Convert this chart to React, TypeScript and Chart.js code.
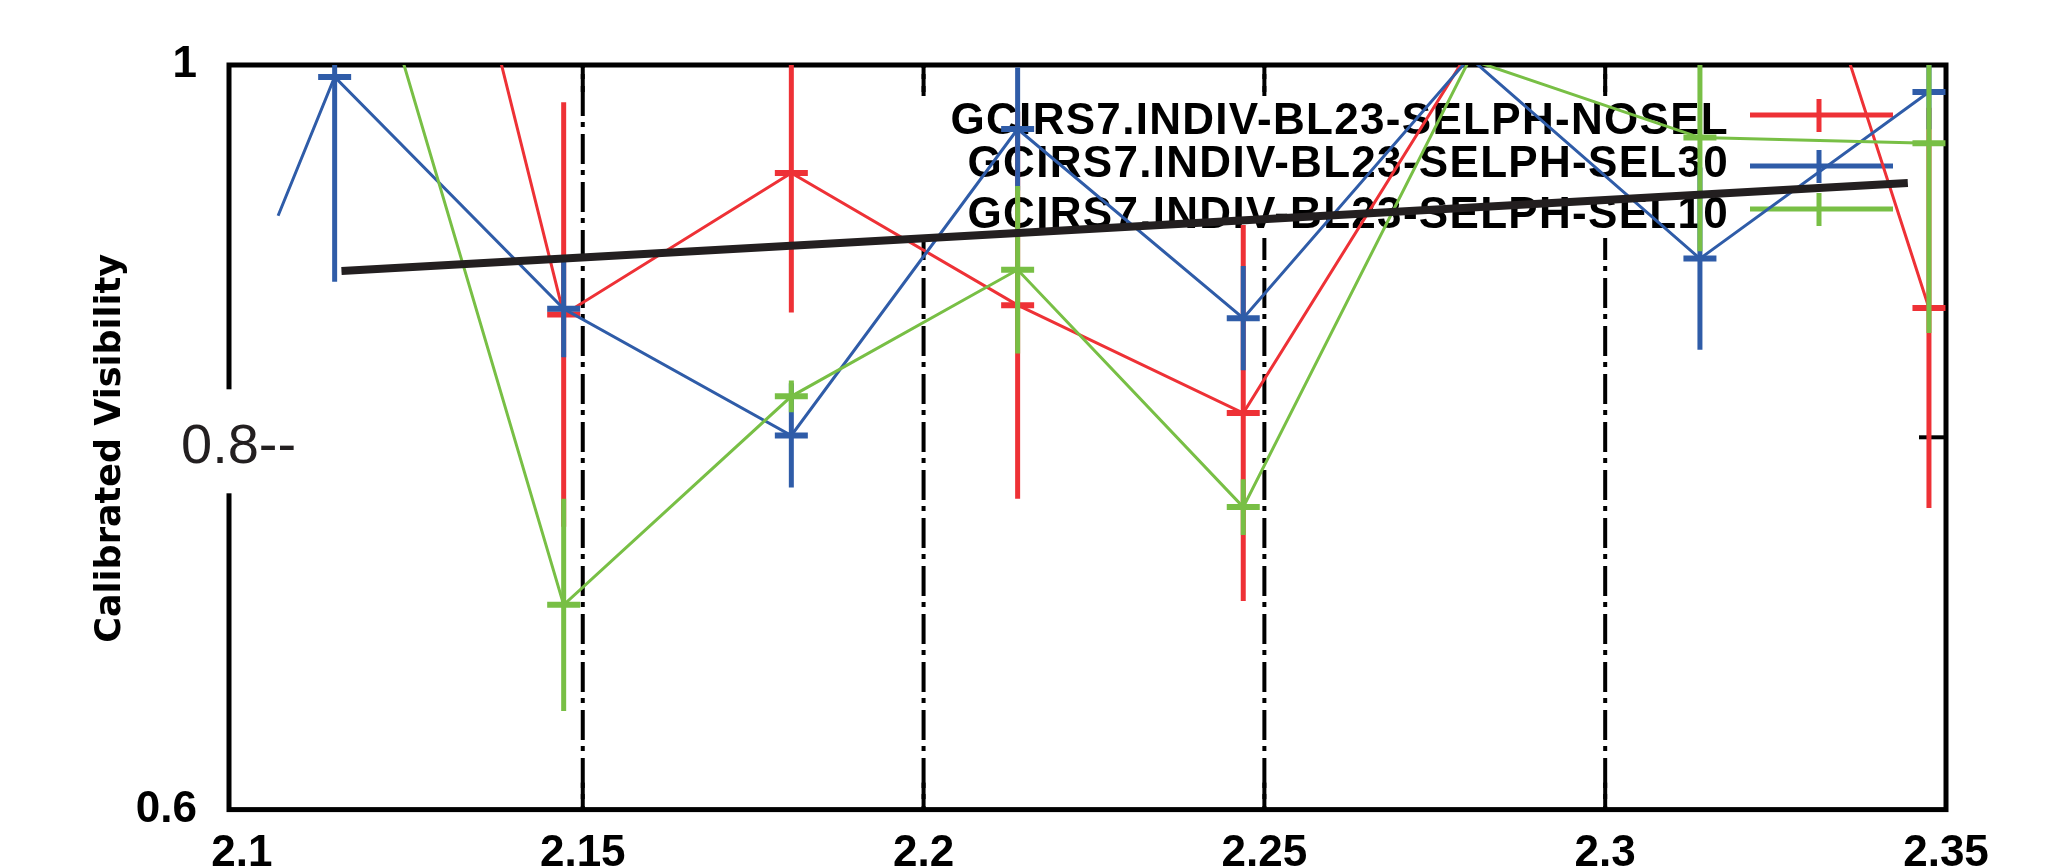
import React, { useEffect, useRef } from 'react';
import { Chart, registerables } from 'chart.js';

Chart.register(...registerables);

// ---------- data ----------
const WAVELENGTH = [2.1136, 2.1472, 2.1806, 2.2138, 2.2469, 2.2801, 2.3139, 2.3475];
const SEL30_WAVELENGTH = [2.1053, 2.1136, 2.1472, 2.1806, 2.2138, 2.2469, 2.2801, 2.3139, 2.3475];

const NOSEL_VIS = [1.36, 0.866, 0.942, 0.871, 0.813, 1.008, 1.25, 0.8695];
const NOSEL_ERR = [null, 0.114, 0.075, 0.104, 0.101, null, null, 0.1075];

const SEL30_VIS = [0.919, 0.9936, 0.869, 0.801, 0.9656, 0.864, 1.004, 0.896, 0.9855];
const SEL30_ERR = [null, 0.11, 0.026, 0.028, 0.033, 0.028, null, 0.049, 0.02];

const SEL10_VIS = [1.126, 0.71, 0.822, 0.89, 0.7625, 1.003, 0.961, 0.958];
const SEL10_ERR = [null, 0.057, 0.0085, 0.045, 0.015, null, 0.061, 0.102];

const FIT_WAVELENGTH = [2.1146, 2.3444];
const FIT_VIS = [0.8894, 0.9366];

const SERIES_NAMES = [
  'GCIRS7.INDIV-BL23-SELPH-NOSEL',
  'GCIRS7.INDIV-BL23-SELPH-SEL30',
  'GCIRS7.INDIV-BL23-SELPH-SEL10',
];

const X_MIN = 2.0981;
const X_MAX = 2.35;
const X_TICKS = [2.1, 2.15, 2.2, 2.25, 2.3, 2.35];
const X_TICK_LABELS = ['2.1', '2.15', '2.2', '2.25', '2.3', '2.35'];
const Y_TICKS = [0.6, 0.8, 1];
const Y_TICK_LABELS = ['0.6', '', '1'];
const SPECIAL_Y_LABEL = '0.8--';
const SPECIAL_Y_VALUE = 0.8;
const MARKER_LINES = [2.15, 2.2, 2.25, 2.3];
const Y_TITLE = 'Calibrated Visibility';

// ---------- styles ----------
const RED = '#EE3136';
const BLUE = '#2F5CA8';
const GREEN = '#78BF45';
const FIT = '#231F20';
const COLORS = [RED, BLUE, GREEN];

const toPoints = (xs: number[], ys: number[]) => xs.map((x, i) => ({ x, y: ys[i] }));

function line(ctx: CanvasRenderingContext2D, x1: number, y1: number, x2: number, y2: number) {
  ctx.beginPath();
  ctx.moveTo(x1, y1);
  ctx.lineTo(x2, y2);
  ctx.stroke();
}

const framePlugin = {
  id: 'gnuplotFrame',
  beforeDatasetsDraw(chart: any) {
    const { ctx, chartArea: a, scales } = chart;
    const xs = scales.x;
    const ys = scales.y;
    ctx.save();

    // dash-dot vertical marker lines
    ctx.strokeStyle = '#000';
    ctx.lineWidth = 4;
    ctx.setLineDash([30, 7, 5, 6]);
    ctx.lineDashOffset = 26.5;
    MARKER_LINES.forEach((v) => {
      const px = xs.getPixelForValue(v);
      line(ctx, px, a.bottom, px, a.top);
    });
    ctx.setLineDash([]);

    // opaque key box
    ctx.fillStyle = '#fff';
    ctx.fillRect(912, 96, 1000, 142);

    // frame
    ctx.strokeStyle = '#000';
    ctx.lineWidth = 5;
    ctx.strokeRect(a.left, a.top, a.right - a.left, a.bottom - a.top);

    // inward ticks (mirrored), skipped where they sit on the frame
    ctx.lineWidth = 4;
    X_TICKS.forEach((v) => {
      const px = xs.getPixelForValue(v);
      if (px - a.left < 20 || a.right - px < 20) return;
      line(ctx, px, a.bottom, px, a.bottom - 27);
      line(ctx, px, a.top, px, a.top + 27);
    });
    Y_TICKS.forEach((v) => {
      if (v <= ys.min || v >= ys.max) return;
      const py = ys.getPixelForValue(v);
      line(ctx, a.right, py, a.right - 27, py);
      line(ctx, a.left, py, a.left + 27, py);
    });

    // special pasted "0.8--" label on a white patch
    const py8 = ys.getPixelForValue(SPECIAL_Y_VALUE);
    ctx.fillStyle = '#fff';
    ctx.fillRect(a.left - 60, py8 - 48, 130, 104);
    ctx.fillStyle = '#231F20';
    ctx.font = '56px "Liberation Sans", Arial, sans-serif';
    ctx.textAlign = 'left';
    ctx.textBaseline = 'alphabetic';
    ctx.fillText(SPECIAL_Y_LABEL, a.left - 48, py8 + 26);

    // y-axis title
    ctx.save();
    ctx.translate(111, (a.top + a.bottom) / 2 + 11);
    ctx.rotate(-Math.PI / 2);
    ctx.font = 'bold 35px "DejaVu Sans", sans-serif';
    ctx.fillStyle = '#000';
    ctx.textAlign = 'center';
    ctx.textBaseline = 'middle';
    ctx.fillText(Y_TITLE, 0, 0);
    ctx.restore();

    // key
    const textBase = [134, 177, 228];
    const sampleY = [115, 166, 209];
    ctx.font = 'bold 44px "Liberation Sans", Arial, sans-serif';
    (ctx as any).letterSpacing = '1.3px';
    ctx.textAlign = 'right';
    ctx.fillStyle = '#000';
    SERIES_NAMES.forEach((name, i) => {
      ctx.fillText(name, 1729, textBase[i]);
    });
    (ctx as any).letterSpacing = '0px';
    SERIES_NAMES.forEach((_, i) => {
      ctx.strokeStyle = COLORS[i];
      ctx.lineWidth = 5;
      line(ctx, 1750, sampleY[i], 1893, sampleY[i]);
      line(ctx, 1819, sampleY[i] - 16, 1819, sampleY[i] + 17);
    });
    ctx.restore();
  },
  afterDatasetDraw(chart: any, args: any) {
    const ds = chart.data.datasets[args.index];
    if (!ds.errors) return;
    const { ctx, chartArea: a, scales } = chart;
    const xs = scales.x;
    const ys = scales.y;
    ctx.save();
    ctx.beginPath();
    ctx.rect(a.left, a.top, a.right - a.left, a.bottom - a.top);
    ctx.clip();
    ctx.strokeStyle = ds.borderColor;
    ds.data.forEach((p: any, i: number) => {
      const e = ds.errors[i];
      if (e == null || p.y > ys.max || p.y < ys.min) return;
      const px = xs.getPixelForValue(p.x);
      const py = ys.getPixelForValue(p.y);
      ctx.lineWidth = 5;
      line(ctx, px, ys.getPixelForValue(p.y + e), px, ys.getPixelForValue(p.y - e));
      ctx.lineWidth = 6;
      line(ctx, px - 16.5, py, px + 16.5, py);
    });
    ctx.restore();
  },
};

export default function App() {
  const canvasRef = useRef<HTMLCanvasElement | null>(null);

  useEffect(() => {
    if (!canvasRef.current) return;
    const dataLine = (label: string, color: string, pts: any[], errors: any[], order: number) => ({
      label,
      data: pts,
      errors,
      borderColor: color,
      backgroundColor: color,
      borderWidth: 3,
      pointRadius: 0,
      tension: 0,
      clip: 0,
      order,
    });

    const chart = new Chart(canvasRef.current, {
      type: 'line',
      data: {
        datasets: [
          {
            label: 'fit',
            data: toPoints(FIT_WAVELENGTH, FIT_VIS),
            borderColor: FIT,
            backgroundColor: FIT,
            borderWidth: 8,
            pointRadius: 0,
            tension: 0,
            clip: 0,
            order: 0,
          } as any,
          dataLine(SERIES_NAMES[2], GREEN, toPoints(WAVELENGTH, SEL10_VIS), SEL10_ERR, 1),
          dataLine(SERIES_NAMES[1], BLUE, toPoints(SEL30_WAVELENGTH, SEL30_VIS), SEL30_ERR, 2),
          dataLine(SERIES_NAMES[0], RED, toPoints(WAVELENGTH, NOSEL_VIS), NOSEL_ERR, 3),
        ],
      },
      options: {
        responsive: false,
        animation: false,
        devicePixelRatio: 1,
        events: [],
        layout: { padding: { left: 0, right: 102, top: 65, bottom: 0 } },
        plugins: { legend: { display: false }, tooltip: { enabled: false }, title: { display: false } },
        scales: {
          x: {
            type: 'linear',
            min: X_MIN,
            max: X_MAX,
            afterBuildTicks: (s: any) => {
              s.ticks = X_TICKS.map((v) => ({ value: v }));
            },
            afterFit: (s: any) => {
              s.height = 57;
            },
            ticks: {
              autoSkip: false,
              maxRotation: 0,
              minRotation: 0,
              padding: 18,
              color: '#000',
              font: { family: '"Liberation Sans", Arial, sans-serif', weight: 'bold', size: 44 },
              callback: (v: any) => X_TICK_LABELS[X_TICKS.indexOf(Number(v))] ?? '',
            },
            grid: { display: false, drawTicks: false },
            border: { display: false },
          },
          y: {
            type: 'linear',
            min: 0.6,
            max: 1,
            afterBuildTicks: (s: any) => {
              s.ticks = Y_TICKS.map((v) => ({ value: v }));
            },
            afterFit: (s: any) => {
              s.width = 229;
            },
            ticks: {
              autoSkip: false,
              padding: 32,
              color: '#000',
              font: { family: '"Liberation Sans", Arial, sans-serif', weight: 'bold', size: 44 },
              callback: (v: any) => Y_TICK_LABELS[Y_TICKS.indexOf(Number(v))] ?? '',
            },
            grid: { display: false, drawTicks: false },
            border: { display: false },
            title: { display: false, text: Y_TITLE },
          },
        },
      } as any,
      plugins: [framePlugin as any],
    });
    return () => chart.destroy();
  }, []);

  return (
    <div style={{ position: 'fixed', left: 0, top: 0, width: 2048, height: 868, background: '#fff' }}>
      <canvas ref={canvasRef} width={2048} height={868} style={{ display: 'block' }} />
    </div>
  );
}
